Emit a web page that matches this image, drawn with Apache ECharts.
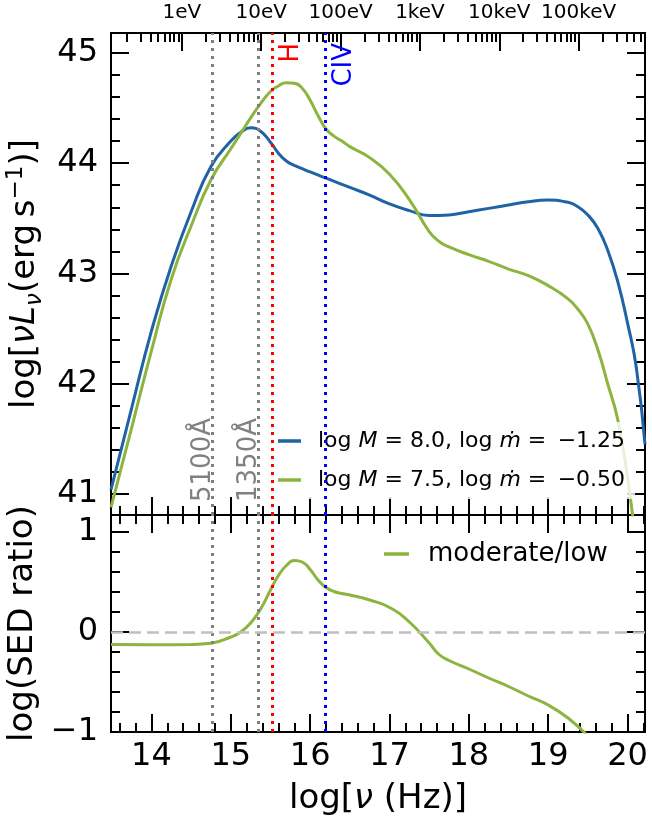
<!DOCTYPE html>
<html>
<head>
<meta charset="utf-8">
<script src="https://cdn.jsdelivr.net/npm/echarts@6/dist/echarts.min.js"></script>
<style>
  html, body { margin: 0; padding: 0; background: #fff; }
  #chart { width: 652px; height: 817px; }
</style>
</head>
<body>
<div id="chart"></div>
<script>
// --- data ---
const nuBlue = [13.49, 13.75, 14.0, 14.25, 14.5, 14.75, 15.0, 15.125, 15.25, 15.375, 15.5, 15.6, 15.7, 15.8, 15.9, 16.0, 16.25, 16.5, 16.75, 17.0, 17.25, 17.5, 17.75, 18.0, 18.25, 18.5, 18.75, 19.0, 19.25, 19.375, 19.5, 19.625, 19.75, 19.875, 20.0, 20.11, 20.22];
const lumBlue = [41.04, 41.78, 42.48, 43.07, 43.56, 43.97, 44.2, 44.28, 44.32, 44.29, 44.19, 44.09, 44.02, 43.98, 43.95, 43.92, 43.85, 43.78, 43.71, 43.63, 43.57, 43.525, 43.53, 43.56, 43.59, 43.62, 43.65, 43.665, 43.645, 43.605, 43.53, 43.41, 43.21, 42.93, 42.55, 42.15, 41.45];

const nuGreen = [13.49, 13.75, 14.0, 14.25, 14.5, 14.75, 15.0, 15.125, 15.25, 15.375, 15.5, 15.6, 15.7, 15.8, 15.9, 16.0, 16.1, 16.2, 16.3, 16.4, 16.5, 16.75, 17.0, 17.25, 17.5, 17.625, 17.75, 18.0, 18.25, 18.5, 18.75, 19.0, 19.25, 19.375, 19.5, 19.625, 19.75, 19.875, 20.0, 20.08];
const lumGreen = [40.88, 41.6, 42.3, 42.95, 43.43, 43.85, 44.13, 44.27, 44.41, 44.54, 44.65, 44.70, 44.73, 44.725, 44.68, 44.57, 44.43, 44.31, 44.245, 44.2, 44.15, 44.05, 43.9, 43.67, 43.38, 43.29, 43.24, 43.17, 43.11, 43.04, 42.98, 42.89, 42.77, 42.675, 42.54, 42.31, 42.0, 41.68, 41.15, 40.7];

const nuRatio = [13.49, 14.0, 14.5, 14.75, 15.0, 15.125, 15.25, 15.375, 15.5, 15.6, 15.7, 15.8, 15.9, 16.0, 16.1, 16.2, 16.3, 16.4, 16.5, 16.75, 17.0, 17.25, 17.5, 17.625, 17.75, 18.0, 18.25, 18.5, 18.75, 19.0, 19.25, 19.5];
const ratio = [-0.125, -0.127, -0.125, -0.113, -0.05, 0.0, 0.09, 0.23, 0.42, 0.565, 0.665, 0.715, 0.70, 0.625, 0.52, 0.445, 0.405, 0.385, 0.37, 0.32, 0.245, 0.10, -0.11, -0.225, -0.285, -0.37, -0.46, -0.545, -0.64, -0.73, -0.86, -1.04];

const refNu = [14.77, 15.35, 15.52, 16.19];
const refNames = ['5100Å', '1350Å', 'H', 'CIV'];
const refColors = ['#808080', '#808080', '#ff0000', '#0000ff'];

const xTicks = [14, 15, 16, 17, 18, 19, 20];
const yTopTicks = [41, 42, 43, 44, 45];
const yBotTicks = [-1, 0, 1];
const eVLabels = ['1eV', '10eV', '100eV', '1keV', '10keV', '100keV'];

const seriesNames = ['M8.0', 'M7.5', 'moderate/low'];
const colors = ['#1f63a5', '#8cb43e'];

// --- layout ---
const FONT = 'DejaVu Sans';
const X_MIN = 13.49, X_MAX = 20.22;
const TOP_MIN = 40.81, TOP_MAX = 45.18;
const BOT_MIN = -1, BOT_MAX = 1.17;
const LOG_NU_1EV = 14.3834;   // log10(1 eV / h)
const MAJ = 18, MIN = 9;

function minors(lo, hi) {
  let out = [];
  for (let i = Math.ceil(lo * 5); i <= Math.floor(hi * 5); i++) {
    if (i % 5 !== 0) out.push(i / 5);
  }
  return out;
}

const eVMajor = eVLabels.map((l, k) => LOG_NU_1EV + k);
const eVMinor = [];
for (let d = -1; d <= 5; d++) {
  for (let m = 2; m <= 9; m++) {
    let v = LOG_NU_1EV + d + Math.log10(m);
    if (v > X_MIN && v < X_MAX) eVMinor.push(v);
  }
}

function axis(grid, position, lo, hi, ticks, len, extra) {
  return Object.assign({
    type: 'value', gridIndex: grid, position: position, min: lo, max: hi,
    axisLine: { show: true, onZero: false, lineStyle: { color: '#000', width: 2 } },
    axisTick: { show: true, inside: true, length: len, customValues: ticks, lineStyle: { color: '#000', width: 2 } },
    axisLabel: { show: false },
    splitLine: { show: false }
  }, extra || {});
}

function tickLabel(ticks, size, margin, fmt) {
  return { show: true, customValues: ticks, fontFamily: FONT, fontSize: size, color: '#000', margin: margin, formatter: fmt };
}

const fmtNum = v => (v < 0 ? '\u2212' + Math.abs(v) : String(v));

const xAxes = [
  axis(0, 'bottom', X_MIN, X_MAX, xTicks, MAJ),
  axis(0, 'bottom', X_MIN, X_MAX, minors(X_MIN, X_MAX), MIN),
  axis(0, 'top', X_MIN, X_MAX, eVMajor, MAJ, {
    axisLabel: tickLabel(eVMajor, 20, 10, v => eVLabels[Math.round(v - LOG_NU_1EV)])
  }),
  axis(0, 'top', X_MIN, X_MAX, eVMinor, MIN),
  axis(1, 'bottom', X_MIN, X_MAX, xTicks, MAJ, {
    axisLabel: tickLabel(xTicks, 32, 9, fmtNum),
    name: '{n|log[}{i|\u03bd}{n| (Hz)]}', nameLocation: 'middle', nameGap: 50,
    nameTextStyle: { rich: {
      n: { fontFamily: FONT, fontSize: 34, color: '#000' },
      i: { fontFamily: FONT, fontSize: 34, fontStyle: 'italic', color: '#000' }
    } }
  }),
  axis(1, 'bottom', X_MIN, X_MAX, minors(X_MIN, X_MAX), MIN),
  axis(1, 'top', X_MIN, X_MAX, xTicks, MAJ),
  axis(1, 'top', X_MIN, X_MAX, minors(X_MIN, X_MAX), MIN)
];

const yAxes = [
  axis(0, 'left', TOP_MIN, TOP_MAX, yTopTicks, MAJ, {
    axisLabel: tickLabel(yTopTicks, 32, 13, fmtNum),
    name: '{n|log[}{i|\u03bdL}{s|\u03bd}{n|(erg\u2009s}{p|\u22121}{n|)]}', nameLocation: 'middle', nameGap: 62,
    nameTextStyle: { rich: {
      n: { fontFamily: FONT, fontSize: 34, color: '#000', lineHeight: 42 },
      i: { fontFamily: FONT, fontSize: 34, fontStyle: 'italic', color: '#000', lineHeight: 42 },
      s: { fontFamily: FONT, fontSize: 23, fontStyle: 'italic', color: '#000', lineHeight: 23, verticalAlign: 'bottom' },
      p: { fontFamily: FONT, fontSize: 23, color: '#000', lineHeight: 23, verticalAlign: 'top' }
    } }
  }),
  axis(0, 'left', TOP_MIN, TOP_MAX, minors(TOP_MIN, TOP_MAX), MIN),
  axis(0, 'right', TOP_MIN, TOP_MAX, yTopTicks, MAJ),
  axis(0, 'right', TOP_MIN, TOP_MAX, minors(TOP_MIN, TOP_MAX), MIN),
  axis(1, 'left', BOT_MIN, BOT_MAX, yBotTicks, MAJ, {
    axisLabel: tickLabel(yBotTicks, 32, 13, fmtNum),
    name: 'log(SED ratio)', nameLocation: 'middle', nameGap: 64,
    nameTextStyle: { fontFamily: FONT, fontSize: 34, color: '#000' }
  }),
  axis(1, 'left', BOT_MIN, BOT_MAX, minors(BOT_MIN, BOT_MAX), MIN),
  axis(1, 'right', BOT_MIN, BOT_MAX, yBotTicks, MAJ),
  axis(1, 'right', BOT_MIN, BOT_MAX, minors(BOT_MIN, BOT_MAX), MIN)
];

const zip = (xs, ys) => xs.map((x, i) => [x, ys[i]]);

// vertical reference lines, labelled in the top panel only
const refLinesTop = refNu.map((v, i) => ({
  xAxis: v,
  lineStyle: { color: refColors[i], type: [3, 5], width: 3 },
  label: {
    show: true, formatter: refNames[i], color: refColors[i],
    fontFamily: FONT, fontSize: 26,
    position: i < 2 ? 'insideStartTop' : 'insideEndBottom',
    distance: i < 2 ? [13, -4] : [10, 6]
  }
}));
const refLinesBot = refNu.map((v, i) => ({
  xAxis: v,
  lineStyle: { color: refColors[i], type: [3, 5], width: 3 },
  label: { show: false }
}));

const rich = {
  n: { fontFamily: FONT, fontSize: 22, color: '#000' },
  i: { fontFamily: FONT, fontSize: 22, fontStyle: 'italic', color: '#000' }
};
const legendText = {
  'M8.0': '{n|log }{i|M}{n| = 8.0, log }{i|\u1e41}{n| = \u2009\u22121.25}',
  'M7.5': '{n|log }{i|M}{n| = 7.5, log }{i|\u1e41}{n| = \u2009\u22120.50}'
};

const chart = echarts.init(document.getElementById('chart'), null, { renderer: 'canvas' });
chart.setOption({
  animation: false,
  backgroundColor: '#fff',
  grid: [
    { left: 111, right: 7, top: 33, height: 482, containLabel: false, outerBoundsMode: 'none' },
    { left: 111, right: 7, top: 515, height: 217, containLabel: false, outerBoundsMode: 'none' }
  ],
  xAxis: xAxes,
  yAxis: yAxes,
  legend: [
    {
      data: [seriesNames[0], seriesNames[1]],
      orient: 'vertical', left: 270, top: 422,
      padding: [8, 10, 8, 8], itemGap: 17,
      backgroundColor: 'rgba(255,255,255,0.8)',
      icon: 'rect', itemWidth: 23, itemHeight: 3.5,
      formatter: name => legendText[name],
      textStyle: { rich: rich, padding: [0, 0, 0, 12] }
    },
    {
      data: [seriesNames[2]],
      left: 376, top: 535,
      padding: [6, 8, 6, 8],
      icon: 'rect', itemWidth: 25, itemHeight: 3.5,
      textStyle: { fontFamily: FONT, fontSize: 26, color: '#000', padding: [0, 0, 0, 14] }
    }
  ],
  series: [
    {
      name: seriesNames[0], type: 'line', xAxisIndex: 0, yAxisIndex: 0,
      data: zip(nuBlue, lumBlue), smooth: 0.5, showSymbol: false, symbol: 'none',
      color: colors[0], lineStyle: { width: 3, color: colors[0] },
      markLine: { silent: true, symbol: ['none', 'none'], animation: false, data: refLinesTop },
      z: 3
    },
    {
      name: seriesNames[1], type: 'line', xAxisIndex: 0, yAxisIndex: 0,
      data: zip(nuGreen, lumGreen), smooth: 0.5, showSymbol: false, symbol: 'none',
      color: colors[1], lineStyle: { width: 3, color: colors[1] },
      z: 3
    },
    {
      name: seriesNames[2], type: 'line', xAxisIndex: 4, yAxisIndex: 4,
      data: zip(nuRatio, ratio), smooth: 0.5, showSymbol: false, symbol: 'none',
      color: colors[1], lineStyle: { width: 3, color: colors[1] },
      markLine: {
        silent: true, symbol: ['none', 'none'], animation: false,
        data: refLinesBot.concat([{
          yAxis: 0, lineStyle: { color: '#c0c0c0', type: [12, 6], width: 2.5 }, label: { show: false }
        }])
      },
      z: 3
    }
  ]
});
</script>
</body>
</html>
